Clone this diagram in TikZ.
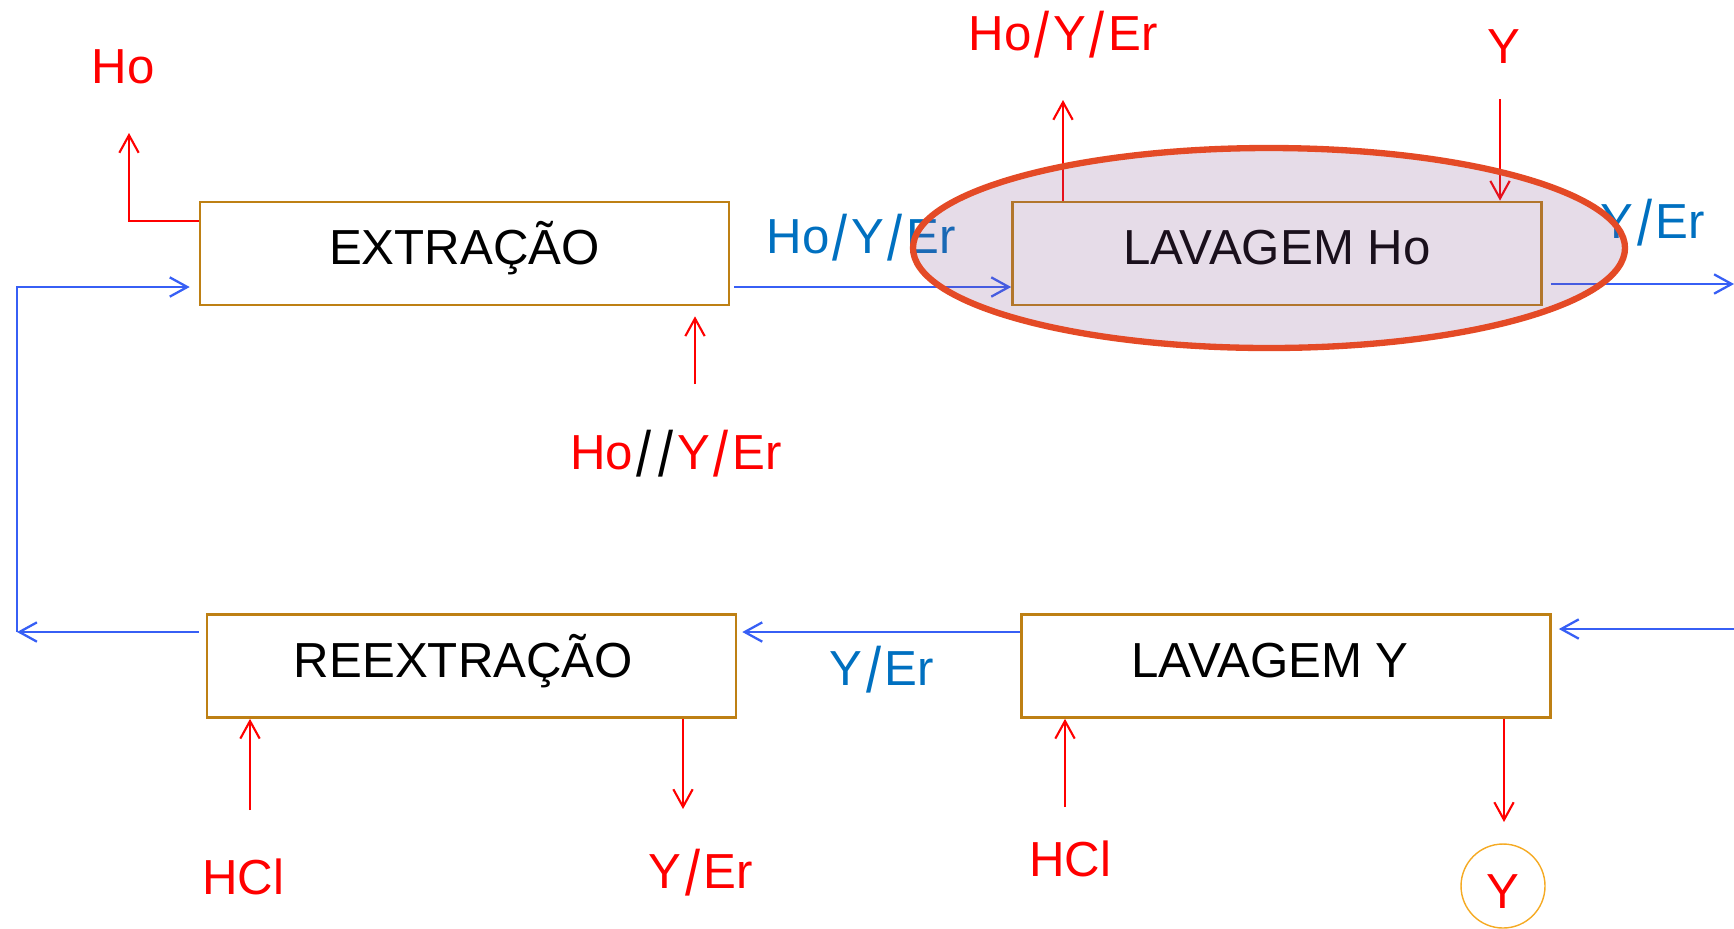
\documentclass[tikz,border=0pt]{standalone}
\usepackage{fontspec}
\setmainfont{Liberation Sans}
\usepackage{graphicx}
\usepackage{tikz}
\usetikzlibrary{
    arrows.meta
}
\definecolor{BoxBrown}{RGB}{190,128,20}
\definecolor{FlowBlue}{RGB}{55,95,245}
\definecolor{LabelBlue}{RGB}{0,112,192}
\definecolor{FlowRed}{RGB}{255,0,0}
\definecolor{HiliteRed}{RGB}{228,74,38}
\definecolor{HiliteFill}{RGB}{130,80,140}
\definecolor{CircleGold}{RGB}{245,170,35}
\newcommand{\slashsep}{\kern1pt\raisebox{-1.85pt}{\scalebox{1.1}[1.3]{/}}\kern1pt}

\begin{document}
\begin{tikzpicture}[
    x=0.1mm,y=-0.1mm,
    font=\fontsize{14}{17}\selectfont,
    stage/.style={
        draw=BoxBrown,
        line width=0.75pt,
        minimum width=5.29cm,
        minimum height=1.03cm,
        inner sep=0pt,
        text height=10pt,
        text depth=3.5pt
    },
    stream/.style={
        inner sep=0pt,
        text height=10pt,
        text depth=0pt
    },
    redflow/.style={
        FlowRed,
        line width=0.6pt,
        -{Straight Barb[length=5pt,width=5.5pt]}
    },
    blueflow/.style={
        FlowBlue,
        line width=0.65pt,
        -{Straight Barb[length=5pt,width=5.5pt]}
    }
]
%
    \useasboundingbox (0,0) rectangle (1734,928);
%
    % the four stages
%
    \node[stage] (ext) at (464.5,253.5) {EXTRAÇÃO};
    \node[stage] (lavHo) at (1277,253.5) {LAVAGEM Ho};
    \node[stage] (reext) at (471.5,666) {REEXTRAÇÃO\hspace*{1.6mm}};
    \node[stage] (lavY) at (1286,666) {LAVAGEM Y\hspace*{3.2mm}};
%
    % stream labels
%
    \node[stream, FlowRed] (hoOut) at (123,66) {Ho};
    \node[stream, FlowRed] (feedIn) at (676,452) {Ho\textcolor{black}{\slashsep\slashsep}Y\slashsep Er};
    \node[stream, LabelBlue] (loadedOrg) at (861,236) {Ho\slashsep Y\slashsep Er};
    \node[stream, FlowRed] (scrubOut) at (1063,33) {Ho\slashsep Y\slashsep Er};
    \node[stream, FlowRed] (yIn) at (1504,46) {Y};
    \node[stream, LabelBlue] (washedOrg) at (1653,221) {Y\slashsep Er};
    \node[stream, LabelBlue] (yerOrg) at (882,668) {Y\slashsep Er};
    \node[stream, FlowRed] (hclA) at (243,877) {HCl};
    \node[stream, FlowRed] (yerOut) at (701,871) {Y\slashsep Er};
    \node[stream, FlowRed] (hclB) at (1070,859) {HCl};
    \node[
        circle,
        draw=CircleGold,
        text=FlowRed,
        line width=0.4pt,
        minimum size=0.84cm,
        inner sep=0pt,
        text height=13pt,
        text depth=0pt
    ] (yProd) at (1503,886) {Y};
%
    % free ends of the connectors
%
    \coordinate (hoTip) at (129,133);
    \coordinate (loopCorner) at (17,632);
    \coordinate (orgOut) at (1734,284);
    \coordinate (orgIn) at (1734,629);
    \coordinate (feedTail) at (695,384);
    \coordinate (scrubTip) at (1063,100);
    \coordinate (yTail) at (1500,99);
    \coordinate (hclATail) at (250,810);
    \coordinate (yerTip) at (683,809);
    \coordinate (hclBTail) at (1065,807);
    \coordinate (yTip) at (1504,822);
%
    % organic phase
%
    \draw[blueflow] ([xshift=-0.7mm]loopCorner -| reext.west) -- (loopCorner);
    \draw[blueflow] (loopCorner) |- ([xshift=-0.9mm,yshift=-3.35mm]ext.west);
    \draw[blueflow] ([xshift=0.4mm,yshift=-3.35mm]ext.east) -- ([yshift=-3.35mm]lavHo.west);
    \draw[blueflow] ([xshift=0.8mm]orgOut -| lavHo.east) -- (orgOut);
    \draw[blueflow] (orgIn) -- ([xshift=0.7mm]orgIn -| lavY.east);
    \draw[blueflow] ([yshift=3.4mm]lavY.west) -- ([xshift=0.5mm,yshift=3.4mm]reext.east);
%
    % aqueous phase
%
    \draw[redflow] ([yshift=-2mm]ext.north west) -| (hoTip);
    \draw[redflow] (feedTail) -- ([yshift=-1mm]feedTail |- ext.south);
    \draw[redflow] (scrubTip |- lavHo.north) -- (scrubTip);
    \draw[redflow] (yTail) -- (yTail |- lavHo.north);
    \draw[redflow] (hclATail) -- (hclATail |- reext.south);
    \draw[redflow] (yerTip |- reext.south) -- (yerTip);
    \draw[redflow] (hclBTail) -- (hclBTail |- lavY.south);
    \draw[redflow] (yTip |- lavY.south) -- (yTip);
%
    \draw[
        HiliteRed,
        line width=1.8pt,
        fill=HiliteFill,
        fill opacity=0.2
    ]
    (1269,248)
    ellipse
    [x radius=3.56cm, y radius=1cm];
%
\end{tikzpicture}
\end{document}
